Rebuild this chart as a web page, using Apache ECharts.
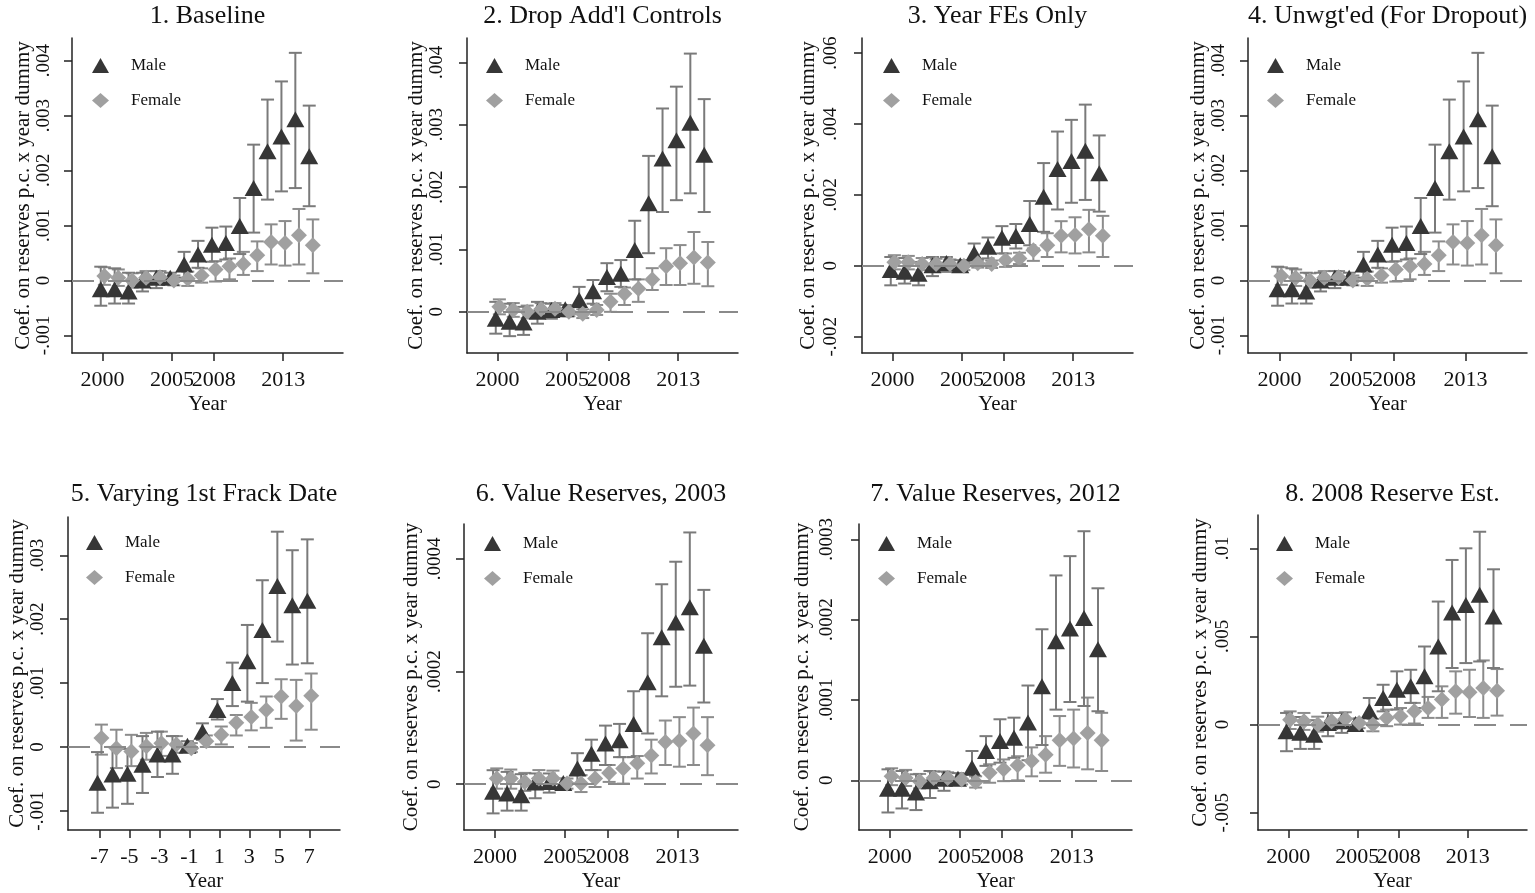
<!DOCTYPE html>
<html><head><meta charset="utf-8">
<script src="https://cdn.jsdelivr.net/npm/echarts@6/dist/echarts.min.js"></script>
<style>html,body{margin:0;padding:0;background:#fff}#c{width:1535px;height:893px}</style>
</head><body><div id="c"></div>
<script>
// ---------- categories / ticks ----------
const years = [2000,2001,2002,2003,2004,2005,2006,2007,2008,2009,2010,2011,2012,2013,2014,2015];
const eventTime = [-7,-6,-5,-4,-3,-2,-1,0,1,2,3,4,5,6,7];
const titles = ["1. Baseline","2. Drop Add'l Controls","3. Year FEs Only","4. Unwgt'ed (For Dropout)",
  "5. Varying 1st Frack Date","6. Value Reserves, 2003","7. Value Reserves, 2012","8. 2008 Reserve Est."];
const yearTicks = [2000,2005,2008,2013];
const eventTicks = [-7,-5,-3,-1,1,3,5,7];
const yTicks1 = [-0.001,0,0.001,0.002,0.003,0.004];
const yTicks2 = [0,0.001,0.002,0.003,0.004];
const yTicks3 = [-0.002,0,0.002,0.004,0.006];
const yTicks4 = [-0.001,0,0.001,0.002,0.003,0.004];
const yTicks5 = [-0.001,0,0.001,0.002,0.003];
const yTicks6 = [0,0.0002,0.0004];
const yTicks7 = [0,0.0001,0.0002,0.0003];
const yTicks8 = [-0.005,0,0.005,0.01];
const yName = "Coef. on reserves p.c. x year dummy";
const xName = "Year";

// ---------- series values ----------
// Panel 1
const p1Male   = [-0.00016,-0.00016,-0.0002,0.0,0.00005,0.00005,0.00029,0.00047,0.00065,0.00068,0.00099,0.00168,0.00235,0.00262,0.00293,0.00226];
const p1MaleLo = [-0.00046,-0.00042,-0.00042,-0.0002,-0.00014,-0.00004,0.00005,0.00023,0.00034,0.00038,0.00048,0.00087,0.00147,0.00162,0.00168,0.00135];
const p1MaleHi = [0.00025,0.00022,0.00014,0.00014,0.00017,0.00014,0.00052,0.00072,0.00096,0.00098,0.0015,0.00247,0.00329,0.00362,0.00414,0.00318];
const p1Fem    = [0.00008,0.00005,0.0,0.00005,0.00006,0.0,0.00003,0.00009,0.0002,0.00026,0.0003,0.00046,0.0007,0.00068,0.00082,0.00064];
const p1FemLo  = [-0.00008,-0.0001,-0.00013,-0.00007,-0.00005,-0.00009,-0.0001,-0.00004,-0.00002,0.00002,0.0001,0.00017,0.00029,0.00027,0.00029,0.00013];
const p1FemHi  = [0.00024,0.0002,0.00013,0.00017,0.00017,0.00009,0.00016,0.00022,0.00035,0.0004,0.00052,0.00071,0.00102,0.00108,0.0013,0.00111];
// Panel 2
const p2Male   = [-0.00011,-0.00016,-0.00017,0.0,0.00003,0.00004,0.00019,0.00033,0.00056,0.00061,0.00099,0.00174,0.00246,0.00275,0.00303,0.00252];
const p2MaleLo = [-0.00035,-0.00039,-0.00037,-0.00019,-0.00011,-0.00005,-0.00003,0.00013,0.00033,0.0004,0.00052,0.00094,0.0016,0.00179,0.0019,0.0016];
const p2MaleHi = [0.00016,0.00013,0.00008,0.00016,0.00013,0.00011,0.0004,0.00051,0.00078,0.00083,0.00146,0.0025,0.00326,0.00361,0.00414,0.00341];
const p2Fem    = [0.00008,0.00003,0.0,0.00004,0.00005,0.0,-0.00003,0.00003,0.00016,0.00029,0.00037,0.00052,0.00073,0.00078,0.00087,0.00079];
const p2FemLo  = [-0.00004,-0.00008,-0.0001,-0.00006,-0.00004,-0.00007,-0.0001,-0.00005,0.0,0.00011,0.00016,0.00035,0.00043,0.00043,0.00045,0.00041];
const p2FemHi  = [0.0002,0.00014,0.0001,0.00014,0.00014,0.00007,0.00004,0.00011,0.00029,0.00039,0.00052,0.0007,0.00102,0.00107,0.00128,0.00112];
// Panel 3
const p3Male   = [-0.00012,-0.00017,-0.00022,0.00002,0.00008,0.00002,0.00035,0.00054,0.00079,0.00084,0.00118,0.00195,0.00273,0.00296,0.00325,0.00261];
const p3MaleLo = [-0.00055,-0.0005,-0.00055,-0.00029,-0.00017,-0.0001,0.00007,0.00021,0.00035,0.00049,0.00058,0.00096,0.00159,0.00178,0.00186,0.00153];
const p3MaleHi = [0.00025,0.00022,0.00011,0.00025,0.00025,0.00016,0.00063,0.0008,0.00112,0.00118,0.00183,0.0029,0.00379,0.00412,0.00455,0.00368];
const p3Fem    = [0.0001,0.0001,0.00005,0.00005,0.00005,0.0,0.00007,0.00005,0.00016,0.00021,0.00044,0.00058,0.00085,0.00087,0.00103,0.00085];
const p3FemLo  = [-0.0001,-0.0001,-0.00012,-0.0001,-0.0001,-0.00012,-0.00005,-0.00006,-0.00003,0.00005,0.00014,0.00025,0.00038,0.00035,0.00038,0.00025];
const p3FemHi  = [0.0003,0.00028,0.00022,0.0002,0.00018,0.00012,0.00017,0.00015,0.00035,0.00037,0.00049,0.00092,0.00126,0.00137,0.00158,0.00141];
// Panel 4
const p4Male   = [-0.00016,-0.00016,-0.0002,0.0,0.00005,0.00005,0.00029,0.00047,0.00065,0.00068,0.00099,0.00168,0.00235,0.00262,0.00293,0.00226];
const p4MaleLo = [-0.00046,-0.00042,-0.00042,-0.0002,-0.00014,-0.00004,0.00005,0.00023,0.00034,0.00038,0.00048,0.00087,0.00147,0.00162,0.00168,0.00135];
const p4MaleHi = [0.00025,0.00022,0.00014,0.00014,0.00017,0.00014,0.00052,0.00072,0.00096,0.00098,0.0015,0.00247,0.00329,0.00362,0.00414,0.00318];
const p4Fem    = [0.00008,0.00005,0.0,0.00005,0.00006,0.0,0.00003,0.00009,0.0002,0.00026,0.0003,0.00046,0.0007,0.00068,0.00082,0.00064];
const p4FemLo  = [-0.00008,-0.0001,-0.00013,-0.00007,-0.00005,-0.00009,-0.0001,-0.00004,-0.00002,0.00002,0.0001,0.00017,0.00029,0.00027,0.00029,0.00013];
const p4FemHi  = [0.00024,0.0002,0.00013,0.00017,0.00017,0.00009,0.00016,0.00022,0.00035,0.0004,0.00052,0.00071,0.00102,0.00108,0.0013,0.00111];
// Panel 5 (event time)
const p5Male   = [-0.00056,-0.00043,-0.00042,-0.00028,-0.00012,-0.00012,0.00002,0.00024,0.00058,0.001,0.00134,0.00183,0.00252,0.00222,0.00229];
const p5MaleLo = [-0.00103,-0.00095,-0.00089,-0.00072,-0.00047,-0.00042,-0.00007,0.00011,0.00043,0.00064,0.00071,0.001,0.00165,0.00129,0.00131];
const p5MaleHi = [-0.00008,0.0,-0.00003,0.00017,0.00024,0.00017,0.00009,0.00037,0.00075,0.00132,0.00191,0.00261,0.00337,0.00308,0.00325];
const p5Fem    = [0.00014,-0.00002,-0.00007,0.00001,0.00006,0.00004,-0.00002,0.00009,0.00019,0.00038,0.00047,0.00058,0.00079,0.00064,0.0008];
const p5FemLo  = [-0.00012,-0.00033,-0.0003,-0.0002,-0.00014,-0.00009,-0.00008,0.0,0.00004,0.00018,0.00026,0.0003,0.00044,0.0001,0.00027];
const p5FemHi  = [0.00035,0.00027,0.00019,0.00022,0.00024,0.00017,0.00006,0.00018,0.00032,0.0005,0.00069,0.00079,0.00106,0.00105,0.00115];
// Panel 6
const p6Male   = [-0.0000136,-0.0000165,-0.0000195,0.000003,0.000004,0.000002,0.000028,0.000054,0.000072,0.000078,0.000107,0.000181,0.000261,0.000287,0.000314,0.000246];
const p6MaleLo = [-0.0000519,-0.000047,-0.000047,-0.000025,-0.000015,-0.000007,0.000001,0.000025,0.000034,0.000048,0.000048,0.00009,0.000156,0.000173,0.000175,0.000145];
const p6MaleHi = [0.0000248,0.0000218,0.0000177,0.000019,0.000019,0.00001,0.000055,0.000079,0.000104,0.000107,0.000165,0.000268,0.000355,0.000395,0.000447,0.000345];
const p6Fem    = [0.00001,0.00001,0.000004,0.00001,0.00001,0.000001,0.000001,0.00001,0.00002,0.000028,0.000037,0.000051,0.000075,0.000077,0.00009,0.000069];
const p6FemLo  = [-0.000008,-0.000008,-0.000012,-0.000006,-0.000005,-0.000008,-0.000014,-0.000005,0.000004,0.000001,0.00001,0.000019,0.000034,0.000031,0.000034,0.000016];
const p6FemHi  = [0.000028,0.000026,0.00002,0.000025,0.000024,0.00001,0.000016,0.000025,0.000034,0.000048,0.00005,0.000079,0.000113,0.000119,0.000136,0.000119];
// Panel 7
const p7Male   = [-0.0000104,-0.0000104,-0.000015,-0.000001,0.000002,0.000002,0.0000158,0.0000365,0.000049,0.000053,0.000072,0.000117,0.000173,0.000189,0.000202,0.000163];
const p7MaleLo = [-0.00004,-0.000035,-0.000037,-0.000022,-0.000013,-0.000005,-0.000001,0.000018,0.000022,0.000028,0.000025,0.000044,0.000088,0.0000975,0.0000925,0.000086];
const p7MaleHi = [0.0000137,0.0000116,0.0000075,0.0000116,0.000011,0.000009,0.0000365,0.000055,0.000076,0.000078,0.000118,0.000188,0.000255,0.000279,0.00031,0.000239];
const p7Fem    = [0.000005,0.000003,-0.000001,0.000003,0.000003,0.000001,-0.000002,0.0000095,0.0000137,0.0000187,0.000024,0.000032,0.00005,0.000052,0.000059,0.00005];
const p7FemLo  = [-0.000006,-0.000007,-0.00001,-0.000005,-0.000004,-0.000005,-0.000009,-0.000003,-0.000001,0.0,0.000005,0.0000095,0.000018,0.000016,0.0000137,0.0000116];
const p7FemHi  = [0.000015,0.000013,0.000008,0.000011,0.00001,0.000007,0.000005,0.00002,0.000026,0.00003,0.000041,0.000055,0.00008,0.000088,0.000103,0.000084];
// Panel 8
const p8Male   = [-0.00038,-0.00047,-0.00057,0.00009,0.00019,0.00004,0.00075,0.00151,0.00198,0.00217,0.00274,0.00443,0.00636,0.00679,0.00736,0.00613];
const p8MaleLo = [-0.00151,-0.00138,-0.00138,-0.00066,-0.00047,-0.00025,0.00006,0.00075,0.00085,0.00123,0.00094,0.00189,0.00321,0.00349,0.00358,0.00321];
const p8MaleHi = [0.00066,0.00043,0.00025,0.00066,0.00066,0.00033,0.00151,0.00226,0.00302,0.00311,0.00443,0.00698,0.00934,0.01,0.01094,0.00881];
const p8Fem    = [0.00028,0.00019,0.0,0.00019,0.00032,0.00009,0.0,0.00038,0.00047,0.00075,0.00094,0.00142,0.00189,0.00183,0.00208,0.00192];
const p8FemLo  = [-0.00025,-0.0003,-0.0004,-0.00025,-0.00015,-0.0002,-0.00038,-0.00009,0.0,0.00006,0.00038,0.00038,0.00062,0.00043,0.00038,0.00051];
const p8FemHi  = [0.00075,0.00066,0.00045,0.00066,0.0007,0.00035,0.00032,0.00085,0.00094,0.00123,0.00157,0.00217,0.00302,0.00311,0.00364,0.00315];

// ---------- assemble (data references only) ----------
const panelData = [
  {x: years, xt: yearTicks, yt: yTicks1, m: p1Male, mLo: p1MaleLo, mHi: p1MaleHi, f: p1Fem, fLo: p1FemLo, fHi: p1FemHi},
  {x: years, xt: yearTicks, yt: yTicks2, m: p2Male, mLo: p2MaleLo, mHi: p2MaleHi, f: p2Fem, fLo: p2FemLo, fHi: p2FemHi},
  {x: years, xt: yearTicks, yt: yTicks3, m: p3Male, mLo: p3MaleLo, mHi: p3MaleHi, f: p3Fem, fLo: p3FemLo, fHi: p3FemHi},
  {x: years, xt: yearTicks, yt: yTicks4, m: p4Male, mLo: p4MaleLo, mHi: p4MaleHi, f: p4Fem, fLo: p4FemLo, fHi: p4FemHi},
  {x: eventTime, xt: eventTicks, yt: yTicks5, m: p5Male, mLo: p5MaleLo, mHi: p5MaleHi, f: p5Fem, fLo: p5FemLo, fHi: p5FemHi},
  {x: years, xt: yearTicks, yt: yTicks6, m: p6Male, mLo: p6MaleLo, mHi: p6MaleHi, f: p6Fem, fLo: p6FemLo, fHi: p6FemHi},
  {x: years, xt: yearTicks, yt: yTicks7, m: p7Male, mLo: p7MaleLo, mHi: p7MaleHi, f: p7Fem, fLo: p7FemLo, fHi: p7FemHi},
  {x: years, xt: yearTicks, yt: yTicks8, m: p8Male, mLo: p8MaleLo, mHi: p8MaleHi, f: p8Fem, fLo: p8FemLo, fHi: p8FemHi}
];

// ---------- layout (positions / ranges / styles) ----------
const layout = [
  {left:72,  top:38,  width:271, height:315, xmin:1997.8, xmax:2017.3, ymin:-0.00132,  ymax:0.00441,  lm:18, ng:38, lx:100,  ly:65},
  {left:467, top:38,  width:271, height:315, xmin:1997.8, xmax:2017.3, ymin:-0.00066,  ymax:0.00439,  lm:20, ng:40, lx:494,  ly:65},
  {left:862, top:38,  width:271, height:315, xmin:1997.8, xmax:2017.3, ymin:-0.00246,  ymax:0.00643,  lm:21, ng:43, lx:891,  ly:65},
  {left:1248,top:38,  width:279, height:315, xmin:1997.8, xmax:2017.3, ymin:-0.00132,  ymax:0.00441,  lm:19, ng:34, lx:1275, ly:65},
  {left:68,  top:517, width:272, height:314, xmin:-9.1,   xmax:9.05,   ymin:-0.0013,   ymax:0.0036,   lm:20, ng:37, lx:94,   ly:542},
  {left:464, top:524, width:274, height:306, xmin:1997.8, xmax:2017.3, ymin:-0.0000814,ymax:0.000462, lm:19, ng:42, lx:492,  ly:543},
  {left:859, top:524, width:273, height:307, xmin:1997.8, xmax:2017.3, ymin:-0.0000618,ymax:0.000319, lm:22, ng:46, lx:886,  ly:543},
  {left:1258,top:515, width:269, height:316, xmin:1997.8, xmax:2017.3, ymin:-0.00598,  ymax:0.01189,  lm:25, ng:47, lx:1284, ly:543}
];

const FONT = 'Liberation Serif';
const AXIS = '#222';
const MALE = '#363636', FEMALE = '#a0a0a0', CI_M = '#7a7a7a', CI_F = '#8c8c8c';
const OFF_M = -0.13, OFF_F = 0.13;

function fmtY(v){
  if (v === 0) return '0';
  return String(v).replace(/^(-?)0\./, '$1.');
}
function fmtX(v){ return String(v); }

function ciRender(params, api){
  const x = api.value(0), lo = api.value(1), hi = api.value(2);
  const a = api.coord([x, hi]), b = api.coord([x, lo]);
  const w = 6.5;
  const style = {stroke: api.visual('color'), lineWidth: 2};
  return {type:'group', children:[
    {type:'line', shape:{x1:a[0], y1:a[1], x2:b[0], y2:b[1]}, style},
    {type:'line', shape:{x1:a[0]-w, y1:a[1], x2:a[0]+w, y2:a[1]}, style},
    {type:'line', shape:{x1:b[0]-w, y1:b[1], x2:b[0]+w, y2:b[1]}, style}
  ]};
}

const grid = [], xAxis = [], yAxis = [], series = [], title = [], legend = [];
layout.forEach((L, i) => {
  const D = panelData[i];
  grid.push({left:L.left, top:L.top, width:L.width, height:L.height, containLabel:false});
  title.push({text: titles[i], left: L.left + L.width/2, top: (i < 4 ? 3 : 481), textAlign:'center', padding:0,
    textStyle:{fontFamily:FONT, fontSize:26, fontWeight:'normal', color:'#111'}});
  xAxis.push({type:'value', gridIndex:i, min:L.xmin, max:L.xmax,
    name:xName, nameLocation:'middle', nameGap:41,
    nameTextStyle:{fontFamily:FONT, fontSize:21, color:'#111'},
    axisLine:{show:true, onZero:false, lineStyle:{color:AXIS, width:1.5}},
    axisTick:{show:true, length:8, customValues:D.xt, lineStyle:{color:AXIS, width:1.5}},
    axisLabel:{customValues:D.xt, margin:16, formatter:fmtX, fontFamily:FONT, fontSize:22, color:'#111'},
    splitLine:{show:false}});
  yAxis.push({type:'value', gridIndex:i, min:L.ymin, max:L.ymax,
    name:yName, nameLocation:'middle', nameRotate:90, nameGap:L.ng,
    nameTextStyle:{fontFamily:FONT, fontSize:21, color:'#111'},
    axisLine:{show:true, onZero:false, lineStyle:{color:AXIS, width:1.5}},
    axisTick:{show:true, length:8, customValues:D.yt, lineStyle:{color:AXIS, width:1.5}},
    axisLabel:{customValues:D.yt, rotate:90, margin:L.lm, formatter:fmtY, fontFamily:FONT, fontSize:19, color:'#111'},
    splitLine:{show:false}});
  series.push({type:'custom', name:'Female CI', xAxisIndex:i, yAxisIndex:i, renderItem:ciRender,
    itemStyle:{color:CI_F}, z:2,
    data: D.x.map((x,k)=>[x+OFF_F, D.fLo[k], D.fHi[k]]),
    markLine:{silent:true, symbol:'none', label:{show:false}, animation:false,
      lineStyle:{color:'#8a8a8a', width:2, type:[22,14]}, data:[{yAxis:0}]}});
  series.push({type:'custom', name:'Male CI', xAxisIndex:i, yAxisIndex:i, renderItem:ciRender,
    itemStyle:{color:CI_M}, z:2,
    data: D.x.map((x,k)=>[x+OFF_M, D.mLo[k], D.mHi[k]])});
  series.push({type:'scatter', name:'Male', xAxisIndex:i, yAxisIndex:i, symbol:'triangle', symbolSize:[18,16],
    itemStyle:{color:MALE, opacity:1}, z:3,
    data: D.x.map((x,k)=>[x+OFF_M, D.m[k]])});
  series.push({type:'scatter', name:'Female', xAxisIndex:i, yAxisIndex:i, symbol:'diamond', symbolSize:[16,16],
    itemStyle:{color:FEMALE, opacity:1}, z:4,
    data: D.x.map((x,k)=>[x+OFF_F, D.f[k]])});
  legend.push({left:L.lx - 8, top:L.ly - 8, orient:'vertical', itemWidth:17, itemHeight:15, itemGap:18,
    selectedMode:false, padding:0,
    data:[{name:'Male', icon:'triangle'}, {name:'Female', icon:'diamond'}],
    textStyle:{fontFamily:FONT, fontSize:17, color:'#111', padding:[0,0,0,17]}});
});

const chart = echarts.init(document.getElementById('c'), null, {renderer:'canvas'});
chart.setOption({backgroundColor:'#fff', animation:false, title, legend, grid, xAxis, yAxis, series});
</script></body></html>
